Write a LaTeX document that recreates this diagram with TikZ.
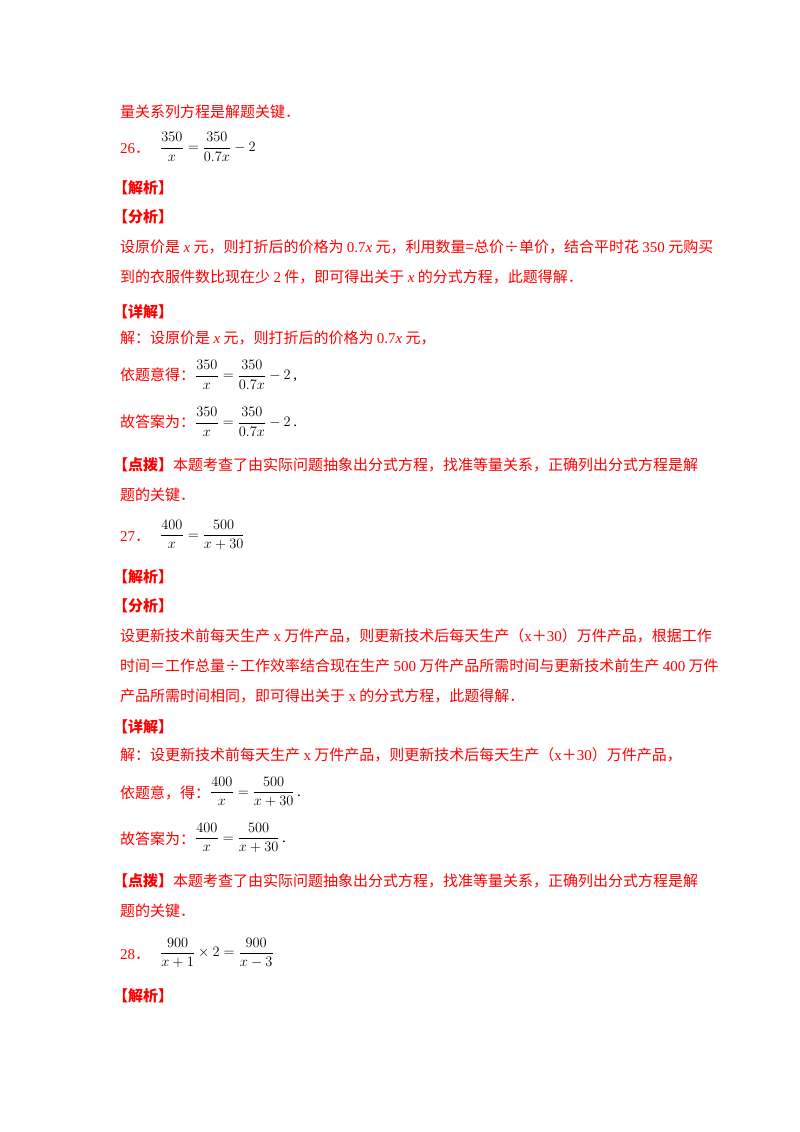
\documentclass[tikz,border=0pt]{standalone}
\usepackage{fontspec}
\usepackage{amsmath}
\setmainfont{Liberation Serif}
\newfontfamily\cjk{Noto Sans CJK SC}
\begin{document}
\begin{tikzpicture}[x=1pt,y=-1pt,
  t/.style={anchor=base west,inner sep=0pt,text=red,font=\fontsize{15}{18}\selectfont\cjk},
  hd/.style={t,font=\fontsize{15}{18}\selectfont\cjk\bfseries},
  eq/.style={anchor=west,inner sep=0pt,text=black,font=\fontsize{15}{18}\selectfont}]
\useasboundingbox (0,0) rectangle (800,1132);
\newcommand\xx{\textit{x}}
\node[t] (l1) at (120,117) {量关系列方程是解题关键．};
\node[t] (n26) at (120,153) {{\rmfamily 26}．};
\node[eq] (e26) at (160,147) {$\dfrac{350}{x}=\dfrac{350}{0.7x}-2$};
\node[hd] (a1) at (113,193) {【解析】};
\node[hd] (b1) at (113,222) {【分析】};
\node[t] (c1) at (120,252) {设原价是 {\rmfamily\xx} 元，则打折后的价格为 {\rmfamily 0.7\xx} 元，利用数量=总价÷单价，结合平时花 {\rmfamily 350} 元购买};
\node[t] (c2) at (120,282) {到的衣服件数比现在少 {\rmfamily 2} 件，即可得出关于 {\rmfamily\xx} 的分式方程，此题得解．};
\node[hd] (d1) at (113,317) {【详解】};
\node[t] (f1) at (120,343) {解：设原价是 {\rmfamily\xx} 元，则打折后的价格为 {\rmfamily 0.7\xx} 元，};
\node[t] (g1) at (120,380) {依题意得：};
\node[eq] (g1e) at (195,375) {$\dfrac{350}{x}=\dfrac{350}{0.7x}-2$\,,};
\node[t] (h1) at (120,427) {故答案为：};
\node[eq] (h1e) at (195,422) {$\dfrac{350}{x}=\dfrac{350}{0.7x}-2$\,.};
\node[hd] (p1) at (113,470) {【点拨】{\mdseries 本题考查了由实际问题抽象出分式方程，找准等量关系，正确列出分式方程是解}};
\node[t] (p1b) at (120,500) {题的关键．};
\node[t] (n27) at (120,541) {{\rmfamily 27}．};
\node[eq] (e27) at (160,535) {$\dfrac{400}{x}=\dfrac{500}{x+30}$};
\node[hd] (a2) at (113,582) {【解析】};
\node[hd] (b2) at (113,611) {【分析】};
\node[t] (c3) at (120,641) {设更新技术前每天生产 {\rmfamily x} 万件产品，则更新技术后每天生产（{\rmfamily x}＋{\rmfamily 30}）万件产品，根据工作};
\node[t] (c4) at (120,671) {时间＝工作总量÷工作效率结合现在生产 {\rmfamily 500} 万件产品所需时间与更新技术前生产 {\rmfamily 400} 万件};
\node[t] (c5) at (120,701) {产品所需时间相同，即可得出关于 {\rmfamily x} 的分式方程，此题得解．};
\node[hd] (d2) at (113,732) {【详解】};
\node[t] (f2) at (120,760) {解：设更新技术前每天生产 {\rmfamily x} 万件产品，则更新技术后每天生产（{\rmfamily x}＋{\rmfamily 30}）万件产品，};
\node[t] (g2) at (120,798) {依题意，得：};
\node[eq] (g2e) at (210,792) {$\dfrac{400}{x}=\dfrac{500}{x+30}$\,.};
\node[t] (h2) at (120,844) {故答案为：};
\node[eq] (h2e) at (195,838) {$\dfrac{400}{x}=\dfrac{500}{x+30}$\,.};
\node[hd] (p2) at (113,886) {【点拨】{\mdseries 本题考查了由实际问题抽象出分式方程，找准等量关系，正确列出分式方程是解}};
\node[t] (p2b) at (120,916) {题的关键．};
\node[t] (n28) at (120,959) {{\rmfamily 28}．};
\node[eq] (e28) at (160,953) {$\dfrac{900}{x+1}\times 2=\dfrac{900}{x-3}$};
\node[hd] (a3) at (113,1001) {【解析】};
\end{tikzpicture}
\end{document}
